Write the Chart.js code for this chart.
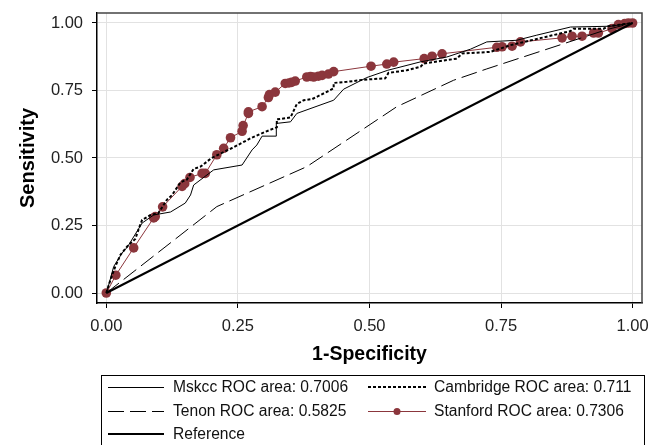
<!DOCTYPE html>
<html lang="en">
<head>
    <meta charset="UTF-8">
    <script src="https://cdn.jsdelivr.net/npm/chart.js"></script>
    <title>ROC</title>
    <style>
        body { margin: 0; background: #fff; }
    </style>
</head>
<body>
    <canvas id="myChart" width="651" height="445"></canvas>
<script>
    // valores (1-especificidade, sensibilidade)
    const mskccX = [0, 0.006, 0.014, 0.03, 0.04, 0.068, 0.09, 0.122, 0.15, 0.16, 0.166, 0.204, 0.258, 0.277, 0.286, 0.296, 0.323, 0.323, 0.35, 0.362, 0.432, 0.451, 0.495, 0.535, 0.597, 0.647, 0.692, 0.723, 0.78, 0.818, 0.882, 0.958, 1];
    const mskccY = [0, 0.04, 0.098, 0.148, 0.17, 0.259, 0.289, 0.30, 0.333, 0.363, 0.40, 0.456, 0.474, 0.53, 0.548, 0.581, 0.581, 0.628, 0.634, 0.665, 0.714, 0.755, 0.798, 0.825, 0.856, 0.874, 0.903, 0.93, 0.936, 0.955, 0.985, 0.988, 1];

    const cambX = [0, 0.008, 0.017, 0.027, 0.042, 0.055, 0.061, 0.068, 0.084, 0.099, 0.115, 0.125, 0.141, 0.153, 0.166, 0.179, 0.2, 0.242, 0.274, 0.302, 0.324, 0.324, 0.35, 0.362, 0.375, 0.391, 0.419, 0.432, 0.432, 0.457, 0.489, 0.53, 0.536, 0.571, 0.597, 0.603, 0.666, 0.676, 0.73, 0.768, 0.882, 0.888, 0.945, 0.954, 1];
    const cambY = [0, 0.05, 0.098, 0.142, 0.178, 0.2, 0.234, 0.271, 0.289, 0.296, 0.345, 0.363, 0.41, 0.42, 0.46, 0.468, 0.5, 0.54, 0.573, 0.597, 0.614, 0.643, 0.65, 0.70, 0.714, 0.718, 0.745, 0.758, 0.778, 0.782, 0.79, 0.795, 0.815, 0.825, 0.838, 0.85, 0.868, 0.887, 0.893, 0.918, 0.97, 0.979, 0.979, 0.988, 1];

    const tenonX = [0, 0.21, 0.381, 0.552, 0.66, 0.723, 0.95, 1];
    const tenonY = [0, 0.32, 0.468, 0.69, 0.788, 0.83, 0.975, 1];

    const stanX = [0, 0.018, 0.052, 0.09, 0.093, 0.107, 0.144, 0.149, 0.159, 0.182, 0.188, 0.21, 0.223, 0.236, 0.258, 0.26, 0.27, 0.27, 0.296, 0.308, 0.31, 0.321, 0.34, 0.347, 0.352, 0.359, 0.381, 0.388, 0.394, 0.403, 0.41, 0.422, 0.432, 0.503, 0.533, 0.546, 0.604, 0.619, 0.638, 0.742, 0.752, 0.771, 0.787, 0.866, 0.885, 0.904, 0.926, 0.935, 0.961, 0.973, 0.985, 0.992, 1];
    const stanY = [0, 0.066, 0.167, 0.278, 0.283, 0.319, 0.395, 0.405, 0.428, 0.443, 0.443, 0.512, 0.536, 0.575, 0.599, 0.62, 0.665, 0.671, 0.69, 0.724, 0.735, 0.744, 0.776, 0.778, 0.78, 0.785, 0.80, 0.802, 0.80, 0.803, 0.806, 0.811, 0.82, 0.84, 0.848, 0.855, 0.868, 0.877, 0.886, 0.91, 0.912, 0.914, 0.93, 0.945, 0.951, 0.951, 0.963, 0.963, 0.979, 0.994, 0.998, 1, 1];

    const refX = [0, 1];
    const refY = [0, 1];

    const tickVals = [0, 0.25, 0.5, 0.75, 1];
    const legendLabels = ['Mskcc ROC area: 0.7006', 'Cambridge ROC area: 0.711', 'Tenon ROC area: 0.5825', 'Stanford ROC area: 0.7306', 'Reference'];

    const vermelho = 'rgb(139,54,60)';

    function pontos(xs, ys) {
        return xs.map((x, i) => ({ x: x, y: ys[i] }));
    }

    // moldura do grafico
    const moldura = {
        id: 'moldura',
        afterDatasetsDraw(chart) {
            const a = chart.chartArea;
            const c = chart.ctx;
            c.save();
            c.strokeStyle = '#444';
            c.lineWidth = 1.5;
            c.beginPath();
            c.moveTo(a.left, a.top);
            c.lineTo(a.right, a.top);
            c.lineTo(a.right, a.bottom);
            c.stroke();
            c.restore();
        }
    };

    // legenda em caixa, duas colunas
    const legenda = {
        id: 'legenda',
        afterDraw(chart) {
            const c = chart.ctx;
            c.save();
            c.strokeStyle = '#000';
            c.lineWidth = 1;
            c.strokeRect(101.5, 375.5, 543, 90);
            c.font = '15.6px "Liberation Sans", Arial, sans-serif';
            c.fillStyle = '#111';
            c.textBaseline = 'middle';
            const linhas = [387, 411, 434];
            const cols = [[108, 164, 173], [368, 426, 434]];
            const estilos = [
                { w: 1, dash: [] },
                { w: 2, dash: [3, 2] },
                { w: 1, dash: [16, 6] },
                { w: 1, dash: [], cor: vermelho, ponto: true },
                { w: 2, dash: [] }
            ];
            legendLabels.forEach((txt, i) => {
                const col = cols[i % 2];
                const y = linhas[Math.floor(i / 2)];
                const e = estilos[i];
                const yl = e.w === 1 ? y + 0.5 : y;
                c.beginPath();
                c.setLineDash(e.dash);
                c.lineWidth = e.w;
                c.strokeStyle = e.cor || '#000';
                c.moveTo(col[0], yl);
                c.lineTo(col[1], yl);
                c.stroke();
                c.setLineDash([]);
                if (e.ponto) {
                    c.beginPath();
                    c.fillStyle = vermelho;
                    c.arc((col[0] + col[1]) / 2, yl, 3.5, 0, Math.PI * 2);
                    c.fill();
                    c.fillStyle = '#111';
                }
                c.fillText(txt, col[2], y + 1);
            });
            c.restore();
        }
    };

    const fonte = '"Liberation Sans", Arial, sans-serif';

    var ctx = document.getElementById('myChart').getContext('2d');
    var myChart = new Chart(ctx, {
        type: 'scatter',
        data: {
            datasets: [
                { data: pontos(refX, refY), showLine: true, borderColor: '#000', borderWidth: 2, pointRadius: 0 },
                { data: pontos(tenonX, tenonY), showLine: true, borderColor: '#000', borderWidth: 1, borderDash: [16, 6], pointRadius: 0 },
                { data: pontos(mskccX, mskccY), showLine: true, borderColor: '#000', borderWidth: 1, pointRadius: 0 },
                { data: pontos(cambX, cambY), showLine: true, borderColor: '#000', borderWidth: 2, borderDash: [3, 2], pointRadius: 0 },
                { data: pontos(stanX, stanY), showLine: true, borderColor: vermelho, borderWidth: 1, pointRadius: 4.8, pointBackgroundColor: vermelho, pointBorderColor: vermelho, pointBorderWidth: 0 }
            ]
        },
        options: {
            responsive: false,
            animation: false,
            layout: { padding: { top: 13, right: 9, bottom: 72, left: 0 } },
            plugins: {
                legend: { display: false },
                tooltip: { enabled: false }
            },
            scales: {
                x: {
                    type: 'linear',
                    min: -0.0177,
                    max: 1.0179,
                    afterBuildTicks: s => { s.ticks = tickVals.map(v => ({ value: v })); },
                    afterFit: s => { s.height = 70; s.paddingLeft = 0; s.paddingRight = 0; },
                    ticks: {
                        callback: v => v.toFixed(2),
                        font: { family: fonte, size: 16.5 },
                        color: '#222',
                        padding: 9,
                        maxRotation: 0
                    },
                    grid: { color: '#e2e2e2', tickColor: '#000', tickLength: 5 },
                    border: { display: true, color: '#000', width: 1.5 },
                    title: {
                        display: true,
                        text: '1-Specificity',
                        font: { family: fonte, size: 19.5, weight: 'bold' },
                        color: '#000',
                        padding: { top: 0, bottom: 7 }
                    }
                },
                y: {
                    type: 'linear',
                    min: -0.037,
                    max: 1.037,
                    afterBuildTicks: s => { s.ticks = tickVals.map(v => ({ value: v })); },
                    afterFit: s => { s.width = 97; s.paddingTop = 0; s.paddingBottom = 0; },
                    ticks: {
                        callback: v => v.toFixed(2),
                        font: { family: fonte, size: 16.5 },
                        color: '#222',
                        padding: 9
                    },
                    grid: { color: '#e2e2e2', tickColor: '#000', tickLength: 5 },
                    border: { display: true, color: '#000', width: 1.5 },
                    title: {
                        display: true,
                        text: 'Sensitivity',
                        font: { family: fonte, size: 20, weight: 'bold' },
                        color: '#000',
                        padding: { top: 16, bottom: 0 }
                    }
                }
            }
        },
        plugins: [moldura, legenda]
    });
</script>
</body>
</html>
